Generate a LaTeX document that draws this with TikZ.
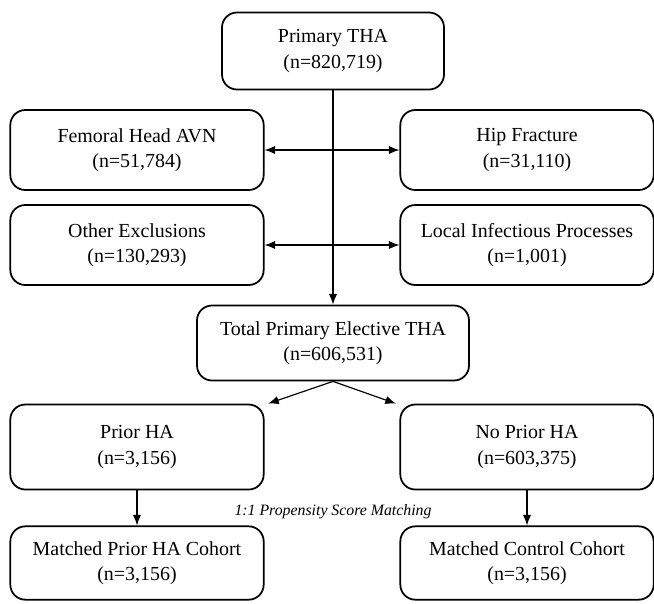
\documentclass[tikz,border=0pt]{standalone}
\usepackage{fontspec}
\setmainfont{Liberation Serif}
\usetikzlibrary{arrows.meta}

\tikzset{
  box/.style={draw, rounded corners=0.45cm, line width=1.5pt, align=center,
    minimum width=7.6cm, minimum height=2.4cm, inner sep=0pt,
    font=\fontsize{17}{21.5}\selectfont},
  arr/.style={-{Latex[length=0.32cm,width=0.25cm]}, line width=1pt},
  dblarr/.style={{Latex[length=0.32cm,width=0.25cm]}-{Latex[length=0.32cm,width=0.25cm]}, line width=1pt},
}

\begin{document}
\begin{tikzpicture}[x=0.03cm,y=-0.03cm]
\useasboundingbox (0,0) rectangle (654,603);

% Define nodes
\node[box, minimum width=6.66cm, minimum height=2.31cm] (tha) at (333,51) {Primary THA\\(n=820,719)};
\node[box] (avn)   at (137,150) {Femoral Head AVN\\(n=51,784)};
\node[box] (hip)   at (527,150) {Hip Fracture\\(n=31,110)};
\node[box] (other) at (137,245) {Other Exclusions\\(n=130,293)};
\node[box] (infec) at (527,245) {Local Infectious Processes\\(n=1,001)};
\node[box, minimum width=8.16cm, minimum height=2.25cm] (total) at (333,343) {Total Primary Elective THA\\(n=606,531)};
\node[box, minimum height=2.55cm] (prior)   at (137,447) {Prior HA\\(n=3,156)};
\node[box, minimum height=2.55cm] (noprior) at (527,447) {No Prior HA\\(n=603,375)};
\node[box, minimum height=2.2cm] (mprior) at (137,563) {Matched Prior HA Cohort\\(n=3,156)};
\node[box, minimum height=2.2cm] (mctrl)  at (527,563) {Matched Control Cohort\\(n=3,156)};
\node[font=\fontsize{13.5}{16}\itshape] (psm) at (333,512) {1:1 Propensity Score Matching};

% Connect the nodes
\draw[arr] (tha.south) -- (total.north);
\draw[dblarr] (avn.east) -- (hip.west);
\draw[dblarr] (other.east) -- (infec.west);
\draw[arr] (total.south) -- ([xshift=3pt]prior.north east);
\draw[arr] (total.south) -- ([xshift=-3pt]noprior.north west);
\draw[arr] (prior.south) -- (mprior.north);
\draw[arr] (noprior.south) -- (mctrl.north);

\end{tikzpicture}
\end{document}
